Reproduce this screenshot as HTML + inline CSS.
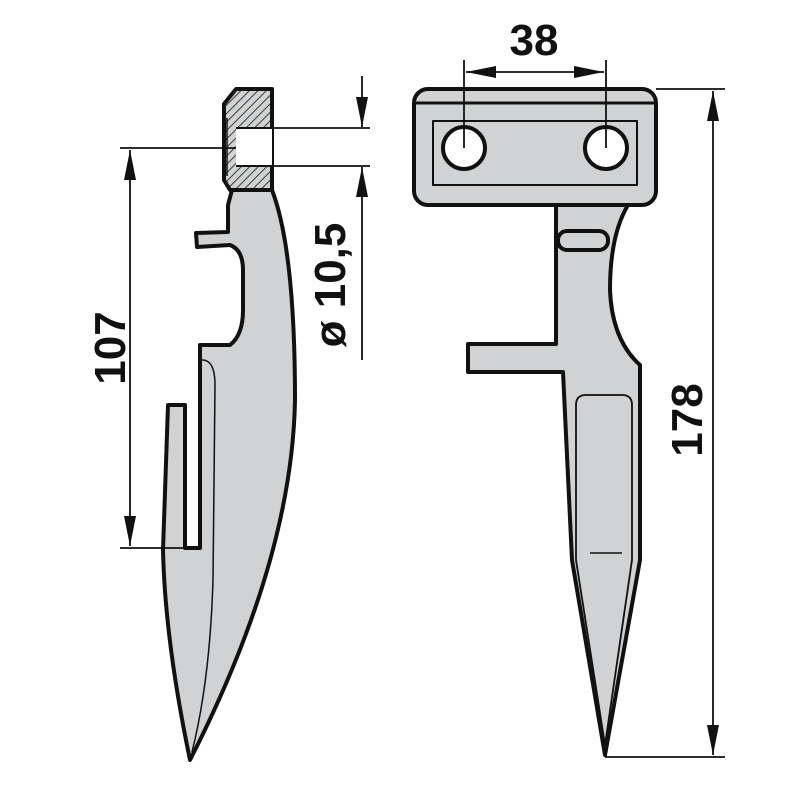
<!DOCTYPE html>
<html><head><style>body{margin:0;background:#fff}svg{display:block}</style></head><body>
<svg width="800" height="800" viewBox="0 0 800 800" xmlns="http://www.w3.org/2000/svg">
<defs>
<pattern id="h" width="6" height="6" patternUnits="userSpaceOnUse" patternTransform="rotate(45)"><rect width="6" height="6" fill="#d0d2d3"/><line x1="0" y1="0" x2="0" y2="6" stroke="#111" stroke-width="1.6"/></pattern>
<marker id="a" viewBox="0 0 30 12" refX="30" refY="6" markerWidth="30" markerHeight="12" markerUnits="userSpaceOnUse" orient="auto-start-reverse"><path d="M0,0 L30,6 L0,12 z" fill="#111"/></marker>
</defs>
<g fill="#d0d2d3" stroke="#111" stroke-width="4" stroke-linejoin="round">
<path d="M168,405 L185,405 L185,548 L200,548 L200,345 L230,345 Q243,335 243,310 L243,270 Q243,250 230,245 L197,247 L196,233 L228,232 L228,205 L232,190 L272,190 Q295,250 295,400 Q292,560 190,760 Q165,640 163,550 Z"/>
<path d="M236,89 L272,89 L272,190 L230,190 L224,180 L224,104 Z" fill="url(#h)"/>
<rect x="236" y="128" width="36" height="38" fill="#fff" stroke="none"/>
<line x1="236" y1="128" x2="272" y2="128" stroke-width="2"/>
<line x1="236" y1="166" x2="272" y2="166" stroke-width="2"/>
<line x1="227" y1="118" x2="227" y2="176" stroke-width="1.5"/>
<path d="M200,360 Q215,358 215,385 L213,580 Q210,680 192,752" fill="none" stroke-width="1.5"/>
<path d="M556,205 L628,205 Q610,235 610,290 Q612,340 640,365 L640,560 L605,755 L572,560 L563,372 L468,372 L468,344 L556,344 Z"/>
<rect x="414" y="89" width="242" height="116" rx="14"/>
<line x1="414" y1="103" x2="656" y2="103" stroke-width="3"/>
<rect x="433" y="121" width="204" height="64" fill="none" stroke-width="2"/>
<circle cx="464" cy="148" r="21" fill="#fff"/>
<circle cx="606" cy="148" r="21" fill="#fff"/>
<rect x="558" y="231" width="50" height="19" rx="9"/>
<path d="M576,560 L576,405 Q576,395 586,395 L622,395 Q632,395 632,405 L632,560 L605,745 Z" fill="none" stroke-width="1.8"/>
<line x1="590" y1="553" x2="622" y2="553" stroke-width="1.5"/>
</g>
<g stroke="#111" stroke-width="1.8" fill="none">
<line x1="120" y1="148" x2="236" y2="148"/>
<line x1="120" y1="548" x2="200" y2="548"/>
<line x1="130" y1="150" x2="130" y2="546" marker-start="url(#a)" marker-end="url(#a)"/>
<line x1="272" y1="128" x2="370" y2="128"/>
<line x1="272" y1="166" x2="370" y2="166"/>
<line x1="362" y1="76" x2="362" y2="127" marker-end="url(#a)"/>
<line x1="362" y1="360" x2="362" y2="167" marker-end="url(#a)"/>
<line x1="464" y1="60" x2="464" y2="148"/>
<line x1="606" y1="60" x2="606" y2="148"/>
<line x1="466" y1="72" x2="604" y2="72" marker-start="url(#a)" marker-end="url(#a)"/>
<line x1="656" y1="89" x2="725" y2="89"/>
<line x1="605" y1="757" x2="725" y2="757"/>
<line x1="713" y1="91" x2="713" y2="755" marker-start="url(#a)" marker-end="url(#a)"/>
</g>
<g font-family="Liberation Sans, sans-serif" font-weight="bold" font-size="44" fill="#111" text-anchor="middle">
<text x="534" y="55">38</text>
<text transform="translate(125,348) rotate(-90)">107</text>
<text transform="translate(345,285) rotate(-90)">ø 10,5</text>
<text transform="translate(702,420) rotate(-90)">178</text>
</g>
</svg>
</body></html>
